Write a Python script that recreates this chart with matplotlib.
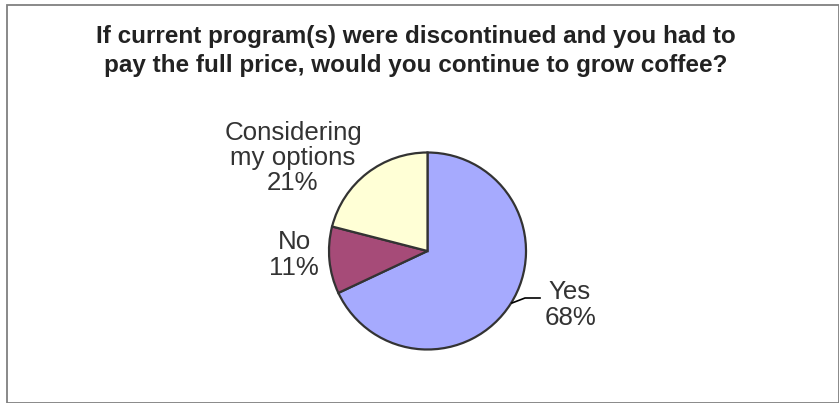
import matplotlib
import matplotlib.pyplot as plt
from matplotlib.patches import Rectangle

matplotlib.use("Agg")

# Data
labels = ["Yes", "No", "Considering\nmy options"]
shares = [68, 11, 21]
colors = ["#a6aafe", "#a64b78", "#ffffd6"]
title = ("If current program(s) were discontinued and you had to\n"
         "pay the full price, would you continue to grow coffee?")

W, H = 839, 403
fig = plt.figure(figsize=(W / 100, H / 100), dpi=100)
fig.patch.set_facecolor("white")

# chart frame
fig.add_artist(Rectangle((7 / W, 0.5 / H), (W - 7.5) / W, (H - 5.5) / H,
                         transform=fig.transFigure, fill=False,
                         edgecolor="#808080", linewidth=1.3))

fig.text(416 / W, 1 - 51 / H, title, ha="center", va="center",
         fontsize=17.5, fontweight="bold", family="Liberation Sans",
         color="#222222", linespacing=1.38)

# pie
cx, cy, r = 427.5, 251, 98.5
ax = fig.add_axes([(cx - r) / W, (H - cy - r) / H, 2 * r / W, 2 * r / H])
wedges, _ = ax.pie(shares, colors=colors, startangle=90, counterclock=False,
                   radius=1, wedgeprops=dict(edgecolor="#333333", linewidth=1.6))
ax.set_xlim(-1, 1)
ax.set_ylim(-1, 1)
ax.set_aspect("equal")
ax.axis("off")

label_pos = [(570, 305), (294, 255), (293, 158)]
for lab, val, (x, y) in zip(labels, shares, label_pos):
    fig.text(x / W, 1 - y / H, f"{lab}\n{val}%", ha="center", va="center",
             fontsize=18.6, family="Liberation Sans", color="#333333",
             linespacing=1.07)

# leader line for Yes
fig.add_artist(plt.Line2D([540 / W, 525 / W, 512 / W],
                          [1 - 298 / H, 1 - 298 / H, 1 - 303 / H],
                          transform=fig.transFigure, color="black", linewidth=1.2))

fig.savefig("out.png", dpi=100)
